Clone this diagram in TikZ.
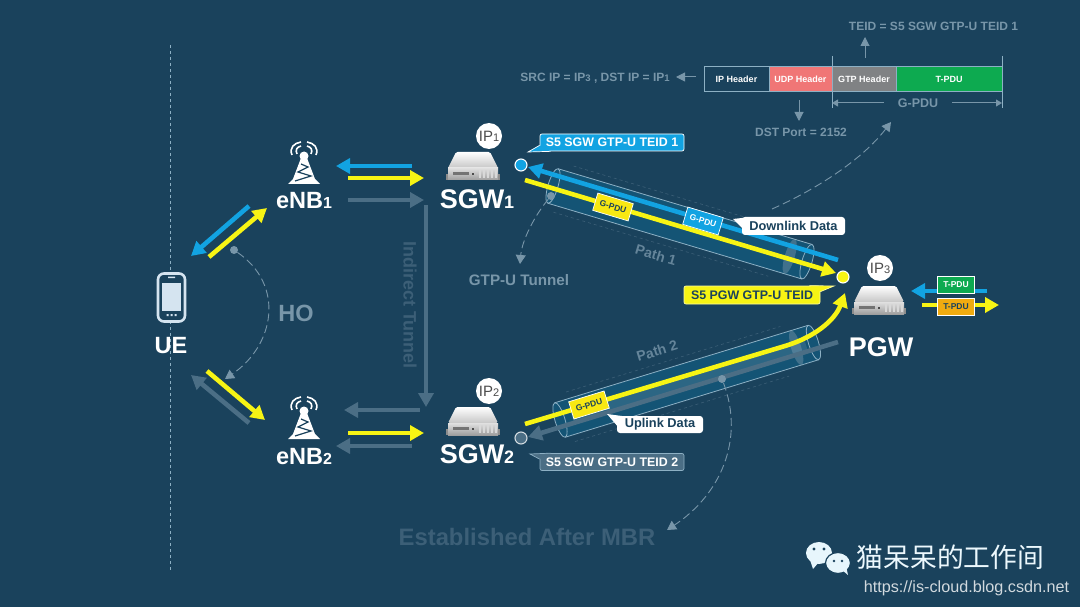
\documentclass[tikz,border=0pt]{standalone}
\usepackage{fontspec}
\usepackage{xcolor}
\usetikzlibrary{arrows.meta,positioning}
\setmainfont{Liberation Sans}
\newfontfamily\cjkfont{Noto Sans CJK SC}
\newcommand{\fs}[1]{\fontsize{#1}{#1}\selectfont}
\definecolor{bgblue}{HTML}{1A425C}
\definecolor{dimtxt}{HTML}{7896A9}
\definecolor{dimmer}{HTML}{3C5F77}
\definecolor{flowgrey}{HTML}{4B6E85}
\definecolor{flowblue}{HTML}{12A3E2}
\definecolor{flowyellow}{HTML}{F7F414}
\definecolor{tubefill}{HTML}{14587A}
\definecolor{tubeline}{HTML}{8DB0C4}
\definecolor{pdugreen}{HTML}{0DAA50}
\definecolor{pduorange}{HTML}{F0AB10}
\definecolor{udpred}{HTML}{F07676}
\definecolor{gtpgrey}{HTML}{808284}
\definecolor{phonecol}{HTML}{D5E4F0}
\tikzset{
  flow/.style={line width=4.6pt,-{Triangle[length=14pt,width=15pt]}},
  thinarrow/.style={draw=dimtxt,line width=1pt,-{Triangle[length=9pt,width=9pt]}},
  curvy/.style={draw=dimtxt,line width=.9pt,dash pattern=on 8pt off 4pt,-{Triangle[length=9pt,width=10pt]}},
  bigtxt/.style={font=\fs{23.5}\bfseries,text=white,inner sep=0pt},
  srvtxt/.style={font=\fs{27}\bfseries,text=white,inner sep=0pt},
  dimlbl/.style={font=\fs{12}\bfseries,text=dimtxt,inner sep=0pt},
  iptag/.style={circle,fill=white,minimum size=26pt,inner sep=0pt,font=\fs{15},text=black!70},
  dot/.style={circle,draw=white,line width=1.1pt,minimum size=12pt,inner sep=0pt},
  teidtag/.style={rounded corners=2pt,draw=white,line width=.7pt,minimum width=144pt,minimum height=17pt,inner sep=0pt,font=\fs{12.4}\bfseries},
  gpdu/.style={draw=white,line width=.7pt,minimum width=37pt,minimum height=18pt,inner sep=0pt,font=\fs{8.5}\bfseries},
  datatag/.style={rounded corners=3pt,fill=white,text=bgblue,inner sep=0pt,font=\fs{12.8}\bfseries},
  tpdu/.style={draw=white,line width=.7pt,minimum width=37pt,minimum height=17pt,inner sep=0pt,font=\fs{8.5}\bfseries},
  pkt/.style={draw=tubeline,line width=.9pt,minimum height=25pt,inner sep=0pt,outer sep=0pt,font=\fs{9}\bfseries,text=white},
  serveric/.pic={
    \fill[black!45] (-27,8) rectangle (27,14);
    \shade[top color=white,bottom color=black!22,rounded corners=1.5pt] (-17,-14) -- (17,-14) -- (25,2) -- (-25,2) -- cycle;
    \shade[top color=black!12,bottom color=black!38] (-25,2) rectangle (25,14);
    \fill[black!55] (-20,6) rectangle (-4,9);
    \foreach \x in {6,10,14,18,22} \fill[white!85!black] (\x,4) rectangle (\x+2,12);
    \fill[black!70] (-1,7) rectangle (1,9);
  },
  towericon/.pic={
    \fill[white] (-3,2) -- (3,2) -- (11,23) -- (16,28) -- (-16,28) -- (-11,23) -- cycle;
    \fill[white] (0,0) circle (4.5pt);
    \draw[bgblue,line width=1.2pt] (-3,8) -- (4,11) -- (-6,16) -- (7,20) -- (-9,25);
    \draw[white,line width=1.6pt]
      (-7,-2) .. controls (-9,-6) and (-7,-9) .. (-3,-10)
      (-12,-1) .. controls (-15,-8) and (-10,-13) .. (-3,-14)
      (7,-2) .. controls (9,-6) and (7,-9) .. (3,-10)
      (12,-1) .. controls (15,-8) and (10,-13) .. (3,-14);
  },
  tubeic/.pic={
    \fill[tubefill,opacity=.85] (0,-18) -- (265,-18) arc[start angle=90,end angle=-90,x radius=5pt,y radius=18pt] -- (0,18) arc[start angle=270,end angle=90,x radius=5pt,y radius=18pt] -- cycle;
    \draw[dimmer,line width=.6pt,dashed] (14,-25) -- (238,-25) (8,25) -- (232,25);
    \draw[tubeline,line width=.8pt] (0,-18) -- (265,-18) (0,18) -- (265,18);
    \draw[tubeline,line width=.8pt] (0,0) circle [x radius=5pt,y radius=18pt];
    \draw[tubeline,line width=.8pt] (265,0) circle [x radius=5pt,y radius=18pt];
    \fill[dimtxt,opacity=.45] (247,0) circle [x radius=5pt,y radius=18pt];
  },
}

\begin{document}
\begin{tikzpicture}[x=1pt,y=-1pt]
\useasboundingbox (0,0) rectangle (1080,607);
\fill[bgblue] (0,0) rectangle (1080,607);

% Handover boundary
\draw[tubeline,line width=.5pt,dashed] (170,45) -- (170,570);

% Tunnels
\pic[rotate=-16.6] at (553,186) {tubeic};
\pic[rotate=17] at (560,420) {tubeic};
\draw[tubeline,line width=14pt,opacity=.2] (572,416) -- (806,345);

% UE
\node[draw=phonecol,fill=bgblue,line width=2.6pt,rounded corners=6pt,minimum width=27pt,minimum height=48pt,inner sep=0pt] (phone) at (171.5,297.5) {};
\node[fill=phonecol,minimum width=19pt,minimum height=28pt,inner sep=0pt] (screen) at (171.5,297) {};
\fill[phonecol] (168,276.5) rectangle (175,278) (166.5,314) rectangle (168.5,316) (170.5,314) rectangle (172.5,316) (174.5,314) rectangle (176.5,316);
\node[bigtxt] (ue) at (171,346) {UE};

% Base stations
\pic at (304,156) {towericon};
\pic at (304,411) {towericon};
\node[bigtxt] (enb1) at (304,201) {eNB{\fs{16}1}};
\node[bigtxt] (enb2) at (304,457) {eNB{\fs{16}2}};

% Gateways
\pic at (473,166) {serveric};
\pic at (473,421) {serveric};
\pic at (879,300) {serveric};
\node[iptag] (ip1) at (489,136) {IP{\fs{11}1}};
\node[iptag] (ip2) at (489,391) {IP{\fs{11}2}};
\node[iptag] (ip3) at (880,268) {IP{\fs{11}3}};
\node[srvtxt] (sgw1) at (477,199) {SGW{\fs{18}1}};
\node[srvtxt] (sgw2) at (477,454) {SGW{\fs{18}2}};
\node[srvtxt] (pgw) at (881,347) {PGW};

% Tunnel end points
\node[dot,fill=flowblue] (teep1) at (521,165) {};
\node[dot,fill=flowyellow] (teep3) at (843,277) {};
\node[dot,fill=flowgrey,draw=white!75!flowgrey] (teep2) at (521,438) {};

% Free arrow ends
\coordinate (a1) at (249,206); \coordinate (a2) at (191,256);
\coordinate (b1) at (209,257); \coordinate (b2) at (267,208);
\coordinate (c1) at (412,166); \coordinate (c2) at (336,166);
\coordinate (d1) at (348,178); \coordinate (d2) at (424,178);
\coordinate (e1) at (348,200); \coordinate (e2) at (424,200);
\coordinate (f1) at (207,371); \coordinate (f2) at (265,420);
\coordinate (g1) at (249,423); \coordinate (g2) at (191,375);
\coordinate (h1) at (420,410); \coordinate (h2) at (344,410);
\coordinate (i1) at (348,433); \coordinate (i2) at (424,433);
\coordinate (j1) at (412,446); \coordinate (j2) at (336,446);
\coordinate (k1) at (426,205); \coordinate (k2) at (426,407);
\coordinate (m1) at (838,260); \coordinate (m2) at (528,167);
\coordinate (n1) at (525,180); \coordinate (n2) at (836,273);
\coordinate (o1) at (838,342); \coordinate (o2) at (528,437);
\coordinate (p1) at (525,424); \coordinate (p2) at (845,293);
\coordinate (q1) at (987,291); \coordinate (q2) at (911,291);
\coordinate (r1) at (922,305); \coordinate (r2) at (999,305);

% Radio and S1 arrows
\foreach \from/\to/\col in {a1/a2/flowblue,b1/b2/flowyellow,c1/c2/flowblue,d1/d2/flowyellow,
  e1/e2/flowgrey,f1/f2/flowyellow,g1/g2/flowgrey,h1/h2/flowgrey,i1/i2/flowyellow,j1/j2/flowgrey,
  k1/k2/flowgrey,m1/m2/flowblue,n1/n2/flowyellow,o1/o2/flowgrey,q1/q2/flowblue,r1/r2/flowyellow}
  \draw[flow,\col] (\from) -- (\to);
\draw[flow,flowyellow] (p1) -- (785,346) .. controls (815,337) and (835,320) .. (p2);

% Handover
\node[circle,fill=dimtxt,minimum size=8pt,inner sep=0pt] (hodot) at (234,250) {};
\coordinate (hoend) at (225,379);
\draw[curvy] (hodot) .. controls (285,285) and (275,345) .. (hoend);
\node[bigtxt,text=dimtxt] (ho) at (296,313) {HO};
\node[font=\fs{18}\bfseries,text=dimmer,rotate=-90,inner sep=0pt] (indirect) at (410,305) {Indirect Tunnel};

% Tunnel notes
\node[circle,fill=dimtxt,minimum size=8pt,inner sep=0pt] (tundot) at (551,196) {};
\node[font=\fs{15.2}\bfseries,text=dimtxt,inner sep=0pt] (gtptun) at (519,280) {GTP-U Tunnel};
\coordinate (tunend) at (520,264);
\draw[curvy] (tundot) .. controls (535,215) and (522,240) .. (tunend);
\node[font=\fs{14}\bfseries,text=dimtxt!80!bgblue,rotate=-16.6,inner sep=0pt] (path1) at (656,255) {Path 1};
\node[font=\fs{14}\bfseries,text=dimtxt!80!bgblue,rotate=17,inner sep=0pt] (path2) at (657,351) {Path 2};
\node[circle,fill=dimtxt,minimum size=8pt,inner sep=0pt] (mbrdot) at (722,379) {};
\node[font=\fs{23.8}\bfseries,text=dimmer,inner sep=0pt] (mbr) at (527,537) {Established After MBR};
\coordinate (mbrend) at (667,530);
\draw[curvy] (mbrdot) .. controls (745,440) and (720,495) .. (mbrend);

% TEID tags
\node[teidtag,fill=flowblue,text=white] (teid1) at (612,142.5) {S5 SGW GTP-U TEID 1};
\draw[white,line width=.7pt,fill=flowblue] ([yshift=6pt]teid1.south west) -- (528,152) -- ([xshift=11pt]teid1.south west);
\node[teidtag,fill=flowyellow,text=bgblue,draw=white!60!flowyellow,minimum width=136pt,minimum height=18pt] (teid3) at (752,295) {S5 PGW GTP-U TEID};
\draw[white!60!flowyellow,line width=.7pt,fill=flowyellow] ([xshift=-11pt]teid3.north east) -- (834,286) -- ([yshift=-6pt]teid3.north east);
\node[teidtag,fill=flowgrey,text=white,draw=tubeline] (teid2) at (612,462) {S5 SGW GTP-U TEID 2};
\draw[tubeline,line width=.7pt,fill=flowgrey] ([yshift=-6pt]teid2.north west) -- (530,454) -- ([xshift=11pt]teid2.north west);

% Tags on the paths
\node[gpdu,fill=flowyellow!90!orange,text=bgblue,rotate=-16.6] (pdu1) at (613,207) {G-PDU};
\node[gpdu,fill=flowblue,text=white,rotate=-16.6] (pdu2) at (703,221) {G-PDU};
\node[gpdu,fill=flowyellow!90!orange,text=bgblue,rotate=17] (pdu3) at (589,405) {G-PDU};
\node[datatag,minimum width=103pt,minimum height=18pt] (down) at (793.5,226) {Downlink Data};
\fill[white] (733,219) -- (746,217.5) -- (746,232) -- cycle;
\node[datatag,minimum width=86pt,minimum height=17pt] (up) at (660,424.5) {Uplink Data};
\fill[white] (607,414) -- (622,416) -- (619,428) -- cycle;

% T-PDU tags
\node[tpdu,fill=pdugreen,text=white] (tp1) at (956,285) {T-PDU};
\node[tpdu,fill=pduorange,text=bgblue] (tp2) at (956,306.5) {T-PDU};

% Packet
\node[pkt,fill=bgblue,minimum width=65pt,anchor=west] (iphdr) at (704,79) {IP Header};
\node[pkt,fill=udpred,minimum width=63pt,right=0pt of iphdr] (udphdr) {UDP Header};
\node[pkt,fill=gtpgrey,minimum width=64pt,right=0pt of udphdr] (gtphdr) {GTP Header};
\node[pkt,fill=pdugreen,minimum width=106pt,right=0pt of gtphdr] (tpdubox) {T-PDU};
\draw[tubeline,line width=.7pt] (gtphdr.west) ++(0,-23) -- ++(0,52) (tpdubox.east) ++(0,-23) -- ++(0,52);
\node[font=\fs{12.5}\bfseries,text=dimtxt,inner sep=0pt] (gpdulbl) at (918,103) {G-PDU};
\coordinate (gl) at (832,103); \coordinate (gr) at (1002,103);
\draw[thinarrow,-{Triangle[length=6pt,width=7pt]}] ([xshift=-14pt]gpdulbl.west) -- (gl);
\draw[thinarrow,-{Triangle[length=6pt,width=7pt]}] ([xshift=14pt]gpdulbl.east) -- (gr);
\node[dimlbl] (teidtxt) at (933.5,26) {TEID = S5 SGW GTP-U TEID 1};
\coordinate (teidfoot) at (865,58); \coordinate (teidhead) at (865,37);
\draw[thinarrow] (teidfoot) -- (teidhead);
\node[dimlbl] (srctxt) at (595,78) {SRC IP = IP{\fs{9.5}3} , DST IP = IP{\fs{9.5}1}};
\coordinate (srcfoot) at (696,77); \coordinate (srchead) at (676,77);
\draw[thinarrow] (srcfoot) -- (srchead);
\node[dimlbl] (dsttxt) at (801,132) {DST Port = 2152};
\coordinate (dstfoot) at (799,100); \coordinate (dsthead) at (799,121);
\draw[thinarrow] (dstfoot) -- (dsthead);
\coordinate (pktfoot) at (772,209); \coordinate (pkthead) at (891,122);
\draw[curvy] (pktfoot) .. controls (815,190) and (862,160) .. (pkthead);

% Watermark
\fill[white!90!flowblue] (819,553) circle [x radius=13pt,y radius=11pt];
\fill[white!90!flowblue] (810,560) -- (813,569) -- (819,562) -- cycle;
\filldraw[draw=bgblue,line width=1.2pt,fill=white!90!flowblue] (838,563) circle [x radius=12.5pt,y radius=10.5pt];
\fill[white!90!flowblue] (842,570) -- (848,575) -- (846,566) -- cycle;
\fill[bgblue] (814,549) circle (1.6pt) (824,549) circle (1.6pt) (834,561) circle (1.4pt) (842,561) circle (1.4pt);
\node[font=\cjkfont\fs{26.8},text=white!92!flowblue,inner sep=0pt] (wxname) at (950.5,557) {猫呆呆的工作间};
\node[font=\fs{16.2},text=white!80!bgblue,inner sep=0pt] (wxurl) at (966.5,588) {https://is-cloud.blog.csdn.net};
\end{tikzpicture}
\end{document}
